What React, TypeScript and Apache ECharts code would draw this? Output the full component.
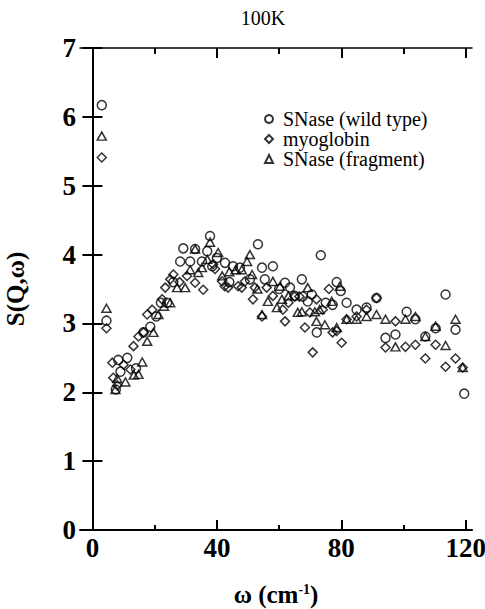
import React, { useEffect, useRef } from 'react';
import * as echarts from 'echarts';

const FONT = 'Liberation Serif, Times New Roman, serif';

const titleText = '100K';
const seriesNames = ['SNase (wild type)', 'myoglobin', 'SNase (fragment)'];
const xMajorTicks = [0, 40, 80, 120];
const xMinorTicks = [20, 60, 100];

const wildTypeData = [
  [3, 6.17], [4.5, 3.04], [7.5, 2.04], [8.3, 2.47], [9, 2.3], [11.2, 2.5], [14, 2.35], [16.4, 2.87],
  [18.6, 2.95], [20.5, 3.1], [22, 3.3], [24, 3.3], [26, 3.6], [28.2, 3.9], [29.2, 4.09], [31.4, 3.9],
  [33, 4.08], [35.2, 3.9], [36.9, 4.05], [37.8, 4.27], [38.5, 3.83], [40, 3.95], [42.6, 3.88], [44, 3.6],
  [45.2, 3.83], [47.4, 3.81], [50.6, 3.64], [53.2, 4.15], [54.5, 3.81], [55.4, 3.64], [58, 3.83], [60, 3.5],
  [61.9, 3.59], [63.5, 3.52], [65, 3.4], [67.3, 3.64], [67.6, 3.39], [69.2, 3.32], [70.5, 3.42], [72.1, 2.87],
  [73.4, 3.99], [75, 3.3], [77.2, 3.27], [78.5, 3.6], [79.8, 3.47], [81.7, 3.3], [84.9, 3.2], [88.1, 3.23],
  [91.3, 3.37], [94.2, 2.79], [97.4, 2.84], [101, 3.17], [103.8, 3.06], [107, 2.81], [110.3, 2.93],
  [113.5, 3.42], [116.7, 2.91], [119.5, 1.98],
];

const myoglobinData = [
  [3, 5.41], [4.5, 2.93], [6.4, 2.43], [6.7, 2.21], [8, 2.1], [10, 2.4], [12.2, 2.33], [13.2, 2.67],
  [14.8, 2.81], [16.4, 2.87], [17.6, 3.13], [19.2, 3.2], [22.4, 3.35], [23.4, 3.52], [25, 3.64], [26, 3.71],
  [28, 3.6], [30.4, 3.69], [33, 3.59], [35.6, 3.49], [38.8, 3.86], [39.4, 3.79], [41.7, 3.61], [42.5, 3.54],
  [43.6, 3.52], [46.8, 3.54], [48, 3.52], [49, 3.61], [51.6, 3.35], [52.2, 3.52], [54.5, 3.1], [56, 3.52],
  [58, 3.4], [61.2, 3.2], [61.9, 3.03], [63, 3.3], [65, 3.39], [66.5, 3.39], [68.3, 2.94], [69.9, 3.16],
  [70.8, 2.58], [72, 3.35], [74, 3.2], [76, 3.5], [77.2, 2.87], [78.5, 2.89], [80.1, 2.72], [81.7, 3.06],
  [84.9, 3.1], [88.1, 3.2], [91.3, 3.37], [94.2, 2.65], [97.4, 3.03], [100.6, 2.66], [103.8, 2.69],
  [107, 2.49], [110.3, 2.69], [113.5, 2.37], [116.7, 2.49], [119, 2.36],
];

const fragmentData = [
  [3, 5.72], [4.5, 3.22], [7.4, 2.04], [8, 2.2], [10.6, 2.15], [13.3, 2.25], [14.8, 2.26], [16, 2.44],
  [17.6, 2.74], [19.6, 2.87], [21.2, 3.13], [23, 3.25], [25, 3.3], [27.2, 3.52], [29.8, 3.52], [31.4, 3.78],
  [33, 4.08], [34, 3.74], [35.2, 3.81], [36.9, 3.93], [37.8, 4.18], [40.4, 4.03], [41.7, 3.69], [44, 3.75],
  [46, 3.78], [48, 3.78], [49.7, 3.9], [50.6, 4.0], [51.3, 3.71], [53, 3.5], [54.5, 3.13], [56.4, 3.32],
  [58, 3.61], [59.3, 3.23], [60.3, 3.54], [60.9, 3.35], [63, 3.4], [66, 3.16], [67.3, 3.17], [69.2, 3.52],
  [71.5, 3.17], [72, 3.03], [73, 3.2], [74.7, 2.98], [76.9, 3.32], [78.5, 2.94], [79.5, 3.54], [81.7, 3.06],
  [84.9, 3.06], [88.1, 3.1], [91.3, 3.13], [94.2, 3.06], [97.4, 2.66], [100.6, 3.06], [103.8, 3.1],
  [107, 2.81], [110.3, 2.96], [113.5, 2.68], [116.7, 3.06], [119, 2.36],
];

const X_MIN = -4;
const X_MAX = 122;

export default function App() {
  const ref = useRef<HTMLDivElement>(null);
  useEffect(() => {
    const chart = echarts.init(ref.current!, null, { renderer: 'svg' });
    const lineStyle = { color: '#000', width: 2 };
    const markerStyle = { color: 'rgba(0,0,0,0)', borderColor: '#000', borderWidth: 1.5 };
    const baseX = {
      type: 'value', min: X_MIN, max: X_MAX, splitLine: { show: false },
    };
    chart.setOption({
      animation: false,
      backgroundColor: '#fff',
      grid: { left: 80, top: 48, width: 392, height: 482, containLabel: false, outerBoundsMode: 'none' },
      graphic: [
        {
          type: 'text', x: 263, y: 18,
          style: { text: titleText, font: `20px ${FONT}`, fill: '#000', textAlign: 'center', textVerticalAlign: 'middle' },
        },
      ],
      legend: {
        left: 259, top: 104, orient: 'vertical', itemGap: 0, itemWidth: 8, itemHeight: 8,
        data: seriesNames,
        textStyle: { fontFamily: FONT, fontSize: 20, color: '#000', lineHeight: 19, padding: [0, 0, 0, 5] },
      },
      xAxis: [
        {
          ...baseX, position: 'bottom',
          axisLine: { show: true, lineStyle },
          axisTick: { show: true, inside: true, length: 10, customValues: xMajorTicks, lineStyle },
          axisLabel: { show: true, customValues: xMajorTicks, margin: 4, fontFamily: FONT, fontWeight: 'bold', fontSize: 27, color: '#000' },
          name: '{a|ω (cm}{b|-1}{a|)}', nameLocation: 'middle', nameGap: 52,
          nameTextStyle: {
            rich: {
              a: { fontFamily: FONT, fontWeight: 'bold', fontSize: 25, color: '#000' },
              b: { fontFamily: FONT, fontWeight: 'bold', fontSize: 14, color: '#000', verticalAlign: 'top', padding: [0, 0, 10, 0] },
            },
          },
        },
        {
          ...baseX, position: 'bottom',
          axisLine: { show: false },
          axisTick: { show: true, inside: true, length: 5, customValues: xMinorTicks, lineStyle },
          axisLabel: { show: false },
        },
        {
          ...baseX, position: 'top',
          axisLine: { show: true, lineStyle: { color: '#000', width: 1.5 } },
          axisTick: { show: true, inside: true, length: 10, customValues: xMajorTicks, lineStyle },
          axisLabel: { show: false },
        },
        {
          ...baseX, position: 'top',
          axisLine: { show: false },
          axisTick: { show: true, inside: true, length: 6, customValues: xMinorTicks, lineStyle },
          axisLabel: { show: false },
        },
      ],
      yAxis: [
        {
          type: 'value', min: 0, max: 7, interval: 1, position: 'left',
          splitLine: { show: false },
          axisLine: { show: true, lineStyle },
          axisTick: { show: true, inside: true, length: 10, lineStyle },
          axisLabel: { margin: 4, fontFamily: FONT, fontWeight: 'bold', fontSize: 27, color: '#000' },
          name: 'S(Q,ω)', nameLocation: 'middle', nameGap: 52, nameRotate: 90,
          nameTextStyle: { fontFamily: FONT, fontWeight: 'bold', fontSize: 25, color: '#000' },
        },
        {
          type: 'value', min: 0, max: 7, interval: 1, position: 'right',
          splitLine: { show: false },
          axisLine: { show: true, lineStyle },
          axisTick: { show: true, inside: true, length: 10, lineStyle },
          axisLabel: { show: false },
        },
      ],
      series: [
        { name: seriesNames[0], type: 'scatter', symbol: 'circle', symbolSize: 9, data: wildTypeData, itemStyle: markerStyle },
        { name: seriesNames[1], type: 'scatter', symbol: 'diamond', symbolSize: 9, data: myoglobinData, itemStyle: markerStyle },
        { name: seriesNames[2], type: 'scatter', symbol: 'triangle', symbolSize: [9, 8], data: fragmentData, itemStyle: markerStyle },
      ],
    });
    return () => chart.dispose();
  }, []);
  return <div ref={ref} style={{ position: 'absolute', left: 0, top: 0, width: 485, height: 609 }} />;
}
